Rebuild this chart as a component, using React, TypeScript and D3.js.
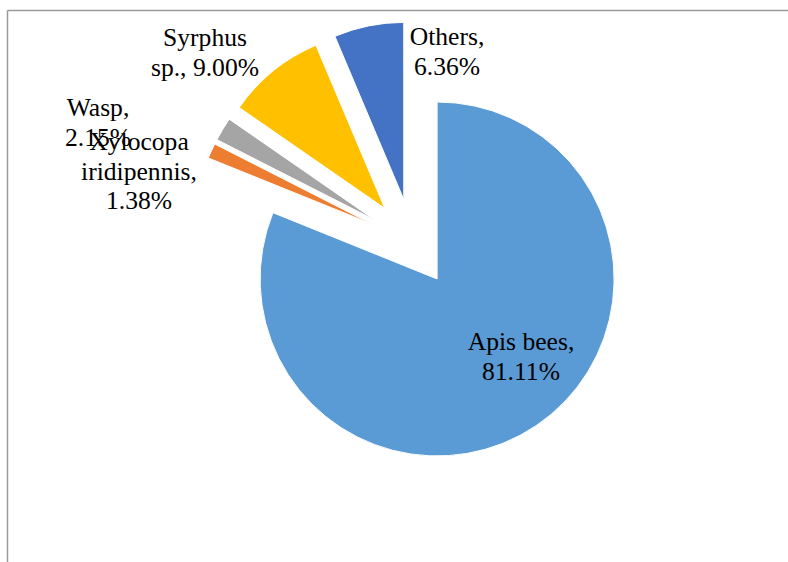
import React from "react";
import * as d3 from "d3";

const categories = ["Apis bees", "Xylocopa iridipennis", "Wasp", "Syrphus sp.", "Others"];
const values = [81.11, 1.38, 2.15, 9.0, 6.36];
const colors = ["#5B9BD5", "#ED7D31", "#A5A5A5", "#FFC000", "#4472C4"];

// label layout (center x, first baseline y, token counts per line)
const labelLayout: Record<string, { x: number; y: number; lines: number[] }> = {
  "Apis bees": { x: 521, y: 350, lines: [2, 1] },
  "Xylocopa iridipennis": { x: 139, y: 150, lines: [1, 1, 1] },
  Wasp: { x: 98, y: 116, lines: [1, 1] },
  "Syrphus sp.": { x: 205, y: 46, lines: [1, 2] },
  Others: { x: 447, y: 45, lines: [1, 1] },
};

const W = 788;
const H = 562;
const cx = 412.5;
const cy = 242.5;
const R = 177;
const EXPLODE = 44;
const LINE_H = 29.5;
const FONT = "'Liberation Serif', 'Times New Roman', 'DejaVu Serif', serif";

export default function App() {
  const pie = d3
    .pie<number>()
    .sort(null)
    .startAngle(0)
    .endAngle(2 * Math.PI)
    .value((d) => d);
  const arcs = pie(values);
  const arcGen = d3.arc<d3.PieArcDatum<number>>().innerRadius(0).outerRadius(R);

  return (
    <svg
      width={W}
      height={H}
      style={{ position: "absolute", left: 0, top: 0, background: "#fff", fontFamily: FONT }}
    >
      <rect x={0} y={0} width={W} height={H} fill="#fff" />
      <line x1={7.5} y1={10.5} x2={W + 5} y2={10.5} stroke="#9a9a9a" strokeWidth={1.5} />
      <line x1={7.5} y1={10.5} x2={7.5} y2={H + 5} stroke="#9a9a9a" strokeWidth={1.5} />
      <g transform={`translate(${cx},${cy})`}>
        {arcs.map((a, i) => {
          const mid = (a.startAngle + a.endAngle) / 2;
          const dx = EXPLODE * Math.sin(mid);
          const dy = -EXPLODE * Math.cos(mid);
          return (
            <path
              key={categories[i]}
              d={arcGen(a) || ""}
              transform={`translate(${dx},${dy})`}
              fill={colors[i]}
              stroke="#fff"
              strokeWidth={1}
            />
          );
        })}
      </g>
      {categories.map((c, i) => {
        const tokens = `${c}, ${values[i].toFixed(2)}%`.split(" ");
        const lay = labelLayout[c];
        const lines: string[] = [];
        let k = 0;
        lay.lines.forEach((n) => {
          lines.push(tokens.slice(k, k + n).join(" "));
          k += n;
        });
        return (
          <text
            key={c}
            x={lay.x}
            y={lay.y}
            textAnchor="middle"
            fontSize={25.6}
            fill="#000"
            style={{ fontFamily: FONT }}
          >
            {lines.map((l, j) => (
              <tspan key={j} x={lay.x} y={lay.y + j * LINE_H}>
                {l}
              </tspan>
            ))}
          </text>
        );
      })}
    </svg>
  );
}
